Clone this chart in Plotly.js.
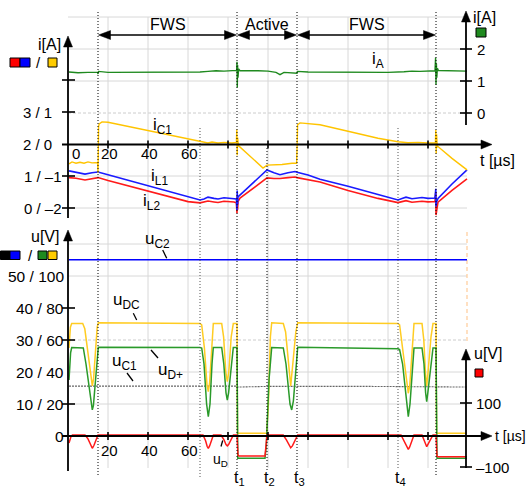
<!DOCTYPE html>
<html><head><meta charset="utf-8">
<script src="https://cdn.plot.ly/plotly-3.0.1.min.js"></script>
<style>html,body{margin:0;padding:0;background:#fff;overflow:hidden}#chart{width:526px;height:490px}</style>
</head><body><div id="chart"></div>
<script>
// ---------------- DATA (time in µs) ----------------
// i_A (green, right current axis, A)
const tA = [0.5,5,10,14.8,15,15.3,20,30,40,50,60,66,70,74,78,82,84.3,84.5,84.65,84.8,85,85.3,86,90,95,100,104,106,108,114.5,114.7,120,140,160,168,172,176,180,183.5,183.8,184,184.2,184.4,184.7,185.2,190,199.5];
const iA = [1.28,1.26,1.27,1.27,1.22,1.3,1.27,1.27,1.27,1.27,1.27,1.28,1.3,1.32,1.31,1.32,1.33,1.6,0.8,1.5,1.1,1.38,1.32,1.31,1.32,1.31,1.27,1.2,1.27,1.24,1.3,1.28,1.27,1.27,1.29,1.31,1.3,1.31,1.32,1.73,0.88,1.55,1.1,1.4,1.33,1.32,1.31];
// i_L1 (blue) and i_L2 (red), left current axis, first scale (A)
const tL  = [0.5,4,8.5,12,15,20,30,40,50,60,66,68,70,73,75,78,80,83,84.2,84.5,84.6,84.8,85,86,92,99.5,103,106,110,113.5,114.5,120,126,140,155,165,167,169,172,175,177,180,183.5,183.9,184,184.1,184.3,185,192,199.5];
const iL1 = [1.16,1.12,1.06,1.1,1.125,1.04,0.87,0.7,0.52,0.35,0.25,0.28,0.34,0.3,0.28,0.32,0.31,0.3,0.28,-0.06,0.55,0.1,0.35,0.41,0.75,1.19,1.1,1.04,1.1,1.14,1.12,1.03,0.9,0.68,0.42,0.25,0.3,0.34,0.29,0.31,0.33,0.3,0.31,0.6,0.05,0.45,0.2,0.3,0.75,1.19];
const iL2 = [0.95,0.93,0.875,0.92,0.95,0.86,0.69,0.52,0.35,0.2,0.16,0.19,0.22,0.19,0.17,0.21,0.2,0.19,0.16,-0.16,0.38,-0.05,0.2,0.31,0.6,0.94,0.92,0.92,0.95,0.97,0.95,0.88,0.81,0.55,0.3,0.17,0.2,0.23,0.18,0.2,0.21,0.19,0.2,0.5,-0.22,0.3,-0.1,0.18,0.55,0.91];
// i_C1 (yellow), left current axis, second scale (A)
const tC  = [0.5,2,4,6,8,10,12,14.8,15,15.1,15.3,15.6,17,20,40,60,66,68,70,72,75,78,82,84.2,84.4,84.6,84.8,85.2,90,97.5,99.5,103,107,112,114.3,114.5,114.8,116,126,140,155,165,170,175,180,183.7,183.9,184.1,184.3,184.6,185,192,199.5];
const iC1 = [-0.62,-0.56,-0.6,-0.57,-0.6,-0.56,-0.59,-0.58,-0.9,0.4,0.55,0.63,0.69,0.68,0.42,0.16,0.08,0.06,0.03,0.06,0.03,0.05,0.03,0.05,0.45,-0.35,0.2,-0.05,-0.33,-0.75,-0.66,-0.66,-0.64,-0.6,-0.6,-0.2,0.6,0.66,0.6,0.4,0.18,0.07,0.04,0.05,0.03,0.04,0.44,-0.3,0.3,-0.1,-0.08,-0.45,-0.81];
// u_C2 (blue) and u_C1 (black), left voltage axis, first scale (V)
const tUC2 = [0.5,50,100,150,199.5];
const uC2  = [55.1,55.1,55.0,55.1,55.1];
const tUC1 = [0.5,50,84.5,85,100,150,184,185,199.5];
const uC1  = [15.6,15.6,15.6,15.3,15.5,15.5,15.4,15.3,15.3];
// u_DC (yellow), left voltage axis, second scale (V)
const tDC = [0.5,1.2,1.85,7.35,8.4,10.2,11.5,12.15,12.8,13.8,14.6,15.15,66,66.85,68.2,69.5,70.15,70.8,71.8,72.65,76.85,77.8,78.9,79.65,80.4,81.6,82.65,84.5,84.75,99.35,100.2,101.2,101.85,107.65,108.8,110.3,111.35,112.4,113.9,114.85,165,165.8,167.2,169.4,170.15,170.9,172.2,173,177,177.9,178.8,179.35,179.9,181.5,182.5,184,184.3,199.5];
const uDC = [55,68,70.3,70.3,67,50,35,31.3,36,55,68,70.8,70.3,69.5,55,32,27.7,33,58,70.3,70.3,62,40,33.9,40,62,70.3,70.3,1.7,1.7,20,62,70.8,70.3,65,45,31.3,45,65,70.8,70.3,69.5,55,31,26.7,32,58,70.3,70.3,60,38,31.3,38,62,70.3,70.3,1.7,1.7];
// u_D+ (green), left voltage axis, second scale (V)
const tDp = [0.5,1.3,1.85,7.65,9,10.8,11.7,12.15,12.7,13.8,15.15,66,66.85,68,69.3,70.15,71,72,72.65,76.85,77.9,79,79.65,80.3,81.6,82.65,84.5,84.9,98.5,99.2,100.5,101.85,107.65,109,111,111.85,112.7,114,114.85,165,165.8,167.3,169.3,170.15,171,172.2,173,177,178,178.8,179.35,179.9,181.5,182.5,184,184.5,199.5];
const uDp = [35,52,55.3,55,45,28,18.5,16.3,19,35,55.5,55.3,55,45,20,12.1,20,45,55.3,55.3,45,27,22.5,27,45,55.3,55.3,-13.9,-13.9,-5,35,55.3,55,45,20,16.3,22,45,55.5,54.5,54,45,20,12.1,20,45,55,55,45,27,21.4,27,45,55,55,-13.9,-13.9];
// u_D (red), right voltage axis (V)
const tD = [0.5,1.5,2.2,8.5,10,11.3,12.15,13,14.2,15,67.5,68.8,69.6,70.15,70.8,71.8,72.7,76.5,78,79,79.65,80.3,81.4,82.7,84.5,85,85.5,98.5,99.5,107.6,109.2,110.6,111.35,112.2,113.5,114.85,166.5,168,169.5,170.15,170.8,172,173,177,178,178.8,179.35,179.9,181.3,182.5,184,184.5,185,199.5];
const uD = [-25,-5,0,0,-12,-32,-41.6,-32,-10,0,0,-18,-36,-41.6,-34,-12,0,0,-15,-30,-34,-30,-15,0,0,-63,-66,-66,0,0,-15,-34,-40,-34,-15,0,0,-18,-38,-44.7,-38,-15,0,0,-15,-30,-36.6,-30,-12,0,0,-66,-68,-68];

// ---------------- TICKS / LABELS ----------------
const timeGrid = [20,40,60,80,100,120,140,160,180];
const timeLabelValsTop = [0,20,40,60];
const timeLabelsTop = ['0','20','40','60'];
const timeLabelValsBot = [20,40,60];
const timeLabelsBot = ['20','40','60'];
const iLeftVals = [0,1,2,3];
const iLeftText = ['0 / –2','1 / –1','2 / 0','3 / 1'];
const iLeftMarks = [0,1,3,4];
const iAVals = [0,1,2];
const iAText = ['0','1','2'];
const uLeftVals = [0,10,20,30,40,50];
const uLeftText = ['0','10 / 20','20 / 40','30 / 60','40 / 80','50 / 100'];
const uLeftMarks = [10,30,40];
const uDVals = [100,-100];
const uDText = ['100','–100'];
const phaseTimes = [84.5,99.5,114.5,165];
const phaseLabels = ['t<sub>1</sub>','t<sub>2</sub>','t<sub>3</sub>','t<sub>4</sub>'];
const intervals = [[15,84.5,'FWS'],[84.5,114.5,'Active'],[114.5,184,'FWS']];

// ---------------- LAYOUT HELPERS ----------------
const W = 526, H = 490;
const FONT = '"Liberation Sans", Arial, Helvetica, sans-serif';
const P = px => px / W;               // page x pixel -> paper
const T = px => (px - 68) / 2;        // page x pixel -> time axis value
const X = t => 68 + 2 * t;            // time -> page x pixel
function rng(zeroPx, pxPerUnit){ return [(zeroPx - H)/pxPerUnit, zeroPx/pxPerUnit]; }
const hid = {visible:false, fixedrange:true, autorange:false};

const C = {red:'#ff1a1a', blue:'#1a1aff', yellow:'#ffc400', green:'#2a9a2a', gA:'#1f8a1f', grid:'#d8d8d8'};

function tr(x,y,ax,color,w,dash){
  return {x:x,y:y,yaxis:ax,type:'scatter',mode:'lines',hoverinfo:'skip',
    line:{color:color,width:w,dash:dash||'solid'}};
}
const data = [
  tr(tA,iA,'y2',C.gA,1.4),
  tr(tC,iC1,'y4',C.yellow,1.4),
  tr(tL,iL2,'y3',C.red,1.6),
  tr(tL,iL1,'y3',C.blue,1.6),
  tr(tUC2,uC2,'y5','#0000ff',1.6),
  tr(tUC1,uC1,'y5','#666666',1.1,'2px,1px'),
  tr(tDC,uDC,'y6','#ffcc22',1.5),
  tr(tDp,uDp,'y6',C.green,1.5),
  tr(tD,uD,'y7',C.red,1.5)
];

const shapes = [];
const ann = [];
function line(x0,y0,x1,y1,opt){ shapes.push(Object.assign({type:'line',x0:x0,y0:y0,x1:x1,y1:y1,xref:'x',yref:'y',layer:'below',line:{color:'#000',width:1}},opt||{})); }
function path(pts){ // pts in page pixels
  let s = pts.map((p,i)=>(i?'L':'M')+T(p[0])+','+p[1]).join(' ')+' Z';
  shapes.push({type:'path',path:s,xref:'x',yref:'y',fillcolor:'#000',line:{color:'#000',width:0.5}});
}
function headUp(px,py,L,Wd){ path([[px,py],[px-Wd,py+L],[px+Wd,py+L]]); }
function headRight(px,py,L,Wd){ path([[px,py],[px-L,py-Wd],[px-L,py+Wd]]); }
function headLeft(px,py,L,Wd){ path([[px,py],[px+L,py-Wd],[px+L,py+Wd]]); }
function axLine(x0,y0,x1,y1,w){ shapes.push({type:'line',xref:'x',yref:'y',x0:T(x0),x1:T(x1),y0:y0,y1:y1,line:{color:'#000',width:w||1.8}}); }

// grid
[17,49,81,176,208,244,276,372,404].forEach(py=>line(0,py,T(467),py,{line:{color:C.grid,width:1}}));
[113,340].forEach(py=>line(0,py,T(467),py,{line:{color:'#cccccc',width:1,dash:'3px,2px'}}));
timeGrid.forEach(t=>line(t,17,t,468,{line:{color:C.grid,width:1}}));
// orange dashed edge
line(T(467),232,T(467),343,{line:{color:'#ffcc99',width:1.2,dash:'4px,3px'}});
// dotted phase lines
[[15,12,477],[84.5,12,477],[114.5,12,477],[184,12,477],[99.5,148,470]].forEach(d=>line(d[0],d[1],d[0],d[2],{layer:'above',line:{color:'#000',width:1,dash:'1px,2px'}}));
[[66,128,477],[165,128,470]].forEach(d=>line(d[0],d[1],d[0],d[2],{layer:'above',line:{color:'#555',width:1,dash:'1px,2px'}}));

// axis lines with arrow heads
axLine(68,218,68,44); headUp(68,36,11,4.5);
axLine(68,471,68,238); headUp(68,230,11,4.5);
axLine(62,144.5,483,144.5); headRight(492,144.5,11,4.5);
axLine(62,436,483,436); headRight(492,436,11,4.5);
axLine(466,125,466,19); headUp(466,11,11,4.5);
axLine(466,468,466,357); headUp(466,349,11,4.5);

// axis tick marks
timeGrid.forEach(t=>{ line(t,140.5,t,148.5,{layer:'above',line:{color:'#000',width:1.6}}); line(t,432,t,440,{layer:'above',line:{color:'#000',width:1.6}}); });
function hTick(val,yref,px0,px1){ shapes.push({type:'line',xref:'paper',yref:yref,x0:P(px0),x1:P(px1),y0:val,y1:val,line:{color:'#000',width:1.6}}); }
iLeftMarks.forEach(v=>hTick(v,'y3',62,75));
iAVals.forEach(v=>hTick(v,'y2',460,472));
uLeftMarks.forEach(v=>hTick(v,'y5',62,75));
uDVals.forEach(v=>hTick(v,'y7',460,472));

// interval arrows
intervals.forEach(iv=>{
  axLine(X(iv[0])+8,35,X(iv[1])-8,35,1.3);
  headLeft(X(iv[0])+0.5,35,12,4.5);
  headRight(X(iv[1])-0.5,35,12,4.5);
  ann.push({x:(iv[0]+iv[1])/2,y:24,xref:'x',yref:'y',text:iv[2],showarrow:false,font:{family:FONT,size:16,color:'#000'}});
});

function txt(text,xpx,ypx,size,anchor,extra){ ann.push(Object.assign({x:P(xpx),y:ypx,xref:'paper',yref:'y',text:text,showarrow:false,xanchor:anchor||'center',yanchor:'middle',font:{family:FONT,size:size||16,color:'#000'}},extra||{})); }
// tick labels
timeLabelValsTop.forEach((v,i)=>ann.push({x:v,y:153,xref:'x',yref:'y',text:timeLabelsTop[i],showarrow:false,xshift:(v===0?7.5:1.5),font:{family:FONT,size:15,color:'#000'}}));
timeLabelValsBot.forEach((v,i)=>ann.push({x:v,y:450.5,xref:'x',yref:'y',text:timeLabelsBot[i],showarrow:false,xshift:1,font:{family:FONT,size:15,color:'#000'}}));
iLeftVals.forEach((v,i)=>ann.push({x:P(v>=2?54:63.5),y:v,xref:'paper',yref:'y3',text:iLeftText[i],showarrow:false,xanchor:'right',font:{family:FONT,size:15,color:'#000'}}));
iAVals.forEach((v,i)=>ann.push({x:P(475),y:v,xref:'paper',yref:'y2',text:iAText[i],showarrow:false,xanchor:'left',font:{family:FONT,size:15,color:'#000'}}));
uLeftVals.forEach((v,i)=>ann.push({x:P(66),y:v,xref:'paper',yref:'y5',text:uLeftText[i],showarrow:false,xanchor:'right',font:{family:FONT,size:15.5,color:'#000'}}));
uDVals.forEach((v,i)=>ann.push({x:P(474),y:v,xref:'paper',yref:'y7',text:uDText[i],showarrow:false,xanchor:'left',font:{family:FONT,size:15,color:'#000'}}));
phaseTimes.forEach((v,i)=>ann.push({x:v,y:478,xref:'x',yref:'y',text:phaseLabels[i],showarrow:false,xshift:2,font:{family:FONT,size:16,color:'#000'}}));

// axis titles and legend squares
txt('i[A]',49,44,16);
txt('/',38.5,62,15);
txt('i[A]',484,17,16);
txt('u[V]',45,236,16);
txt('/',30.5,255,15);
txt('u[V]',472,353,16,'left');
txt('t [µs]',478,160,16,'left');
txt('t [µs]',493,436,14,'left');
function sq(x0,y0,x1,y1,c){ shapes.push({type:'rect',xref:'paper',yref:'y',x0:P(x0),x1:P(x1),y0:y0,y1:y1,fillcolor:c,line:{color:'#000',width:1}}); }
sq(10,58,20,67,'#ff0000'); sq(20,58,30,67,'#0000ff'); sq(48,58,57,67,'#ffcc00');
sq(476,28,486,37,'#1f8a1f');
sq(0.5,251,10,259.5,'#000000'); sq(10,251,20,259.5,'#0000ff'); sq(38,251,47,259.5,'#1f8a1f'); sq(48,251,57,259.5,'#ffcc00');
sq(475,369,483,377,'#ff0000');

// curve labels
txt('i<sub>A</sub>',378,60,17);
txt('i<sub>C1</sub>',162,126,17);
txt('i<sub>L1</sub>',159,177,17);
txt('i<sub>L2</sub>',152,202,17);
txt('u<sub>C2</sub>',157,240,17);
txt('u<sub>DC</sub>',126,301,17);
txt('u<sub>C1</sub>',124,362,17);
txt('u<sub>D+</sub>',170,371,17);
txt('u<sub>D</sub>',220,460,14);
// leader lines
function lead(x0,y0,x1,y1){ shapes.push({type:'line',xref:'paper',yref:'y',x0:P(x0),x1:P(x1),y0:y0,y1:y1,line:{color:'#000',width:1.3}}); }
lead(162.7,250,166.7,258.3);
lead(133.3,313.3,136.7,320);
lead(127,373,133,381);
lead(151,350,158,358);
lead(221,446.5,222.7,440.5);

const layout = {
  width:W,height:H,margin:{l:0,r:0,t:0,b:0,pad:0},
  paper_bgcolor:'#fff',plot_bgcolor:'#fff',showlegend:false,
  xaxis:Object.assign({},hid,{range:[T(0),T(W)]}),
  yaxis:Object.assign({},hid,{range:[H,0]}),
  yaxis2:Object.assign({},hid,{overlaying:'y',range:rng(113,32)}),
  yaxis3:Object.assign({},hid,{overlaying:'y',range:rng(208,32)}),
  yaxis4:Object.assign({},hid,{overlaying:'y',range:rng(144,32)}),
  yaxis5:Object.assign({},hid,{overlaying:'y',range:rng(436,3.2)}),
  yaxis6:Object.assign({},hid,{overlaying:'y',range:rng(436,1.6)}),
  yaxis7:Object.assign({},hid,{overlaying:'y',range:rng(435,0.32)}),
  shapes:shapes,annotations:ann
};
Plotly.newPlot('chart',data,layout,{displayModeBar:false,staticPlot:true});
</script></body></html>
